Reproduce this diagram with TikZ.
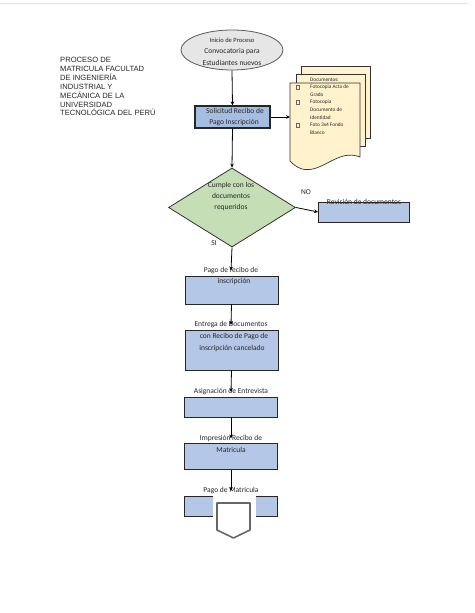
\documentclass[tikz,border=0pt]{standalone}
\usepackage{fontspec}
\setmainfont{Carlito}
\newfontfamily\titlefont{Liberation Sans}
\usetikzlibrary{shapes.geometric,arrows.meta,calc}
\definecolor{boxblue}{HTML}{B4C7E7}
\definecolor{boxblueD}{HTML}{A6BDE2}
\definecolor{elgray}{HTML}{E7E6E6}
\definecolor{dgreen}{HTML}{C5DEB5}
\definecolor{cream}{HTML}{FFF2CC}
\definecolor{txt}{HTML}{262626}
\tikzset{
  procbox/.style={draw=black!85, line width=0.8pt, fill=boxblue, minimum width=93pt, inner sep=0pt},
  lbl/.style={font=\fontsize{7.5}{9}\selectfont, text=txt, inner sep=0pt, align=center},
  arr/.style={line width=0.8pt, -{Stealth[length=4pt,width=3.6pt]}},
  page/.style={draw=black!80, line width=0.7pt, fill=cream},
  doctxt/.style={font=\fontsize{5.3}{5.5}\selectfont, text=txt, inner sep=0pt, anchor=west},
  bul/.style={draw=black!60, line width=0.25pt, minimum width=2.6pt, minimum height=4pt, inner sep=0pt}
}
\begin{document}
\begin{tikzpicture}[x=1pt,y=-1pt]
\useasboundingbox (0,0) rectangle (474,613);
\fill[white] (0,0) rectangle (474,613);
\draw[black!12, line width=0.5pt] (0,3) -- (468,3);

% title
\node[anchor=north west, inner sep=0pt, align=left, font=\titlefont\fontsize{7.6}{8.9}\selectfont, text=black!85] (title) at (60,57)
 {PROCESO DE\\MATRICULA FACULTAD\\DE INGENIERÍA\\INDUSTRIAL Y\\MECÁNICA DE LA\\UNIVERSIDAD\\TECNOLÓGICA DEL PERÚ};

% start ellipse
\node[ellipse, draw=black!65, line width=0.8pt, fill=elgray, minimum width=102pt, minimum height=40pt, inner sep=0pt] (ell) at (232,50) {};
\node[lbl, font=\fontsize{6.5}{8}\selectfont] (e1) at (232,40.5) {Inicio de Proceso};
\node[lbl] (e2) at (232,51.5) {Convocatoria para};
\node[lbl] (e3) at (232,62.5) {Estudiantes nuevos};

% solicitud box
\node[procbox, line width=1.1pt, fill=boxblueD, minimum width=75pt, minimum height=22pt] (sol) at (232.5,117) {};
\node[lbl] (s1) at (235,111) {Solicitud Recibo de};
\node[lbl] (s2) at (234,122.5) {Pago Inscripción};

% documents stack
\draw[page] (301,66) rectangle (370,138);
\draw[page] (296,74) rectangle (365,146);
\draw[page] (290,83) -- (360,83) -- (360,157)
  .. controls (338,148) and (322,174) .. (302,169)
  .. controls (296,167) and (293,164) .. (290,161) -- cycle;
\coordinate (docs) at (290,117);
\node[doctxt] (d0) at (310,80) {Documentos:};
\node[doctxt] (d1) at (310,87.5) {Fotocopia Acta de};
\node[doctxt] (d2) at (310,95) {Grado};
\node[doctxt] (d3) at (310,102.5) {Fotocopia};
\node[doctxt] (d4) at (310,110) {Documento de};
\node[doctxt] (d5) at (310,117.5) {Identidad};
\node[doctxt] (d6) at (310,125) {Foto 3x4 Fondo};
\node[doctxt] (d7) at (310,132.5) {Blanco};
\node[bul] (b1) at (297.5,87.5) {};
\node[bul] (b2) at (297.5,102.5) {};
\node[bul] (b3) at (297.5,125) {};

% decision
\node[diamond, draw=black!80, line width=0.8pt, fill=dgreen, minimum width=127pt, minimum height=79pt, inner sep=0pt] (dia) at (232,207.5) {};
\node[lbl] (q1) at (231,185) {Cumple con los};
\node[lbl] (q2) at (231,196) {documentos};
\node[lbl] (q3) at (231,207) {requeridos};
\node[lbl] (no) at (306,192) {NO};
\node[lbl] (si) at (214,243) {SI};

% revision box
\node[procbox, minimum width=91pt, minimum height=20pt] (rev) at (364,212) {};
\node[lbl] (r1) at (364,201.5) {Revisión de documentos};

% process chain
\node[procbox, minimum height=28pt] (p1) at (231.5,290) {};
\node[lbl] (p1a) at (231,270.5) {Pago de recibo de};
\node[lbl] (p1b) at (234,282) {inscripción};

\node[procbox, minimum height=40pt] (p2) at (231.5,350) {};
\node[lbl] (p2a) at (231,325) {Entrega de Documentos};
\node[lbl] (p2b) at (234,337) {con Recibo de Pago de};
\node[lbl] (p2c) at (232,348) {inscripción cancelado};

\node[procbox, minimum height=20pt] (p3) at (231,407) {};
\node[lbl] (p3a) at (231,392) {Asignación de Entrevista};

\node[procbox, minimum height=25.5pt] (p4) at (231,456.5) {};
\node[lbl] (p4a) at (231,438.5) {Impresión Recibo de};
\node[lbl] (p4b) at (231,449.5) {Matricula};

\node[procbox, minimum height=20pt] (p5) at (231,506) {};
\fill[white] (213,495) rectangle (256,520);
\node[lbl] (p5a) at (231,491) {Pago de Matricula};
\draw[black!60, line width=1.6pt, line join=round, fill=white] (217,503) -- (250,503) -- (250,530) -- (233.5,538) -- (217,530) -- cycle;

% connectors
\draw[arr] (ell.south) -- (sol.north);
\draw[arr] (sol.east) -- (docs);
\draw[arr] (sol.south) -- (dia.north);
\draw[arr] (dia.east) -- (rev.west);
\draw[arr] (dia.south) -- (p1a.center);
\draw[arr] (p1.south) -- (p2a.center);
\draw[arr] (p2.south) -- (p3a.center);
\draw[arr] (p3.south) -- (p4a.center);
\draw[arr] (p4.south) -- (p5a.center);
\end{tikzpicture}
\end{document}
